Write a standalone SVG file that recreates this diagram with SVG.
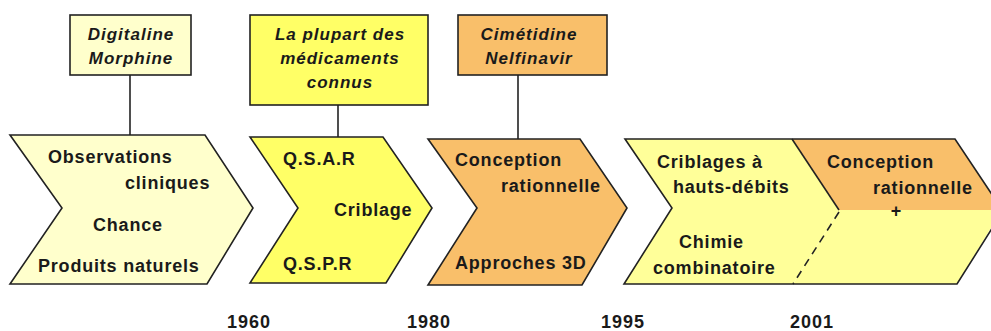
<svg xmlns="http://www.w3.org/2000/svg" width="991" height="331" viewBox="0 0 991 331">
<style>
.shape{stroke:#222;stroke-width:1.6;stroke-linejoin:miter}
.nos{stroke:none}
.t{font-family:"Liberation Sans",Arial,sans-serif;font-weight:bold;font-size:18px;letter-spacing:0.8px;fill:#1a1a1a}
.bi{font-family:"Liberation Sans",Arial,sans-serif;font-weight:bold;font-style:italic;font-size:17px;letter-spacing:1px;fill:#1a1a1a;text-anchor:middle}
.yr{font-family:"Liberation Sans",Arial,sans-serif;font-weight:bold;font-size:18px;letter-spacing:1px;fill:#1a1a1a}
.cream{fill:#FFFFCC}
.yel{fill:#FFFF66}
.ora{fill:#F9BF6A}
.lyel{fill:#FFFF99}
.ln{stroke:#222;stroke-width:1.6;fill:none}
</style>
<rect width="991" height="331" fill="#ffffff"/>
<g id="connectors">
<line class="ln" x1="130" y1="75" x2="130" y2="135"/>
<line class="ln" x1="338" y1="105" x2="338" y2="137"/>
<line class="ln" x1="518" y1="75" x2="518" y2="139"/>
</g>
<g id="box1">
<rect class="shape cream" x="70" y="15" width="121" height="60"/>
<text class="bi" x="131" y="40">Digitaline</text>
<text class="bi" x="131" y="64">Morphine</text>
</g>
<g id="box2">
<rect class="shape yel" x="250" y="15" width="178" height="90"/>
<text class="bi" x="340" y="40">La plupart des</text>
<text class="bi" x="340" y="64">médicaments</text>
<text class="bi" x="340" y="88">connus</text>
</g>
<g id="box3">
<rect class="shape ora" x="458" y="15" width="149" height="60"/>
<text class="bi" x="529" y="40">Cimétidine</text>
<text class="bi" x="529" y="64">Nelfinavir</text>
</g>
<g id="chevron1">
<polygon class="shape cream" points="10,135 205,135 253,208 207,284 10,284 62,208"/>
<text class="t" x="48" y="163">Observations</text>
<text class="t" x="125" y="189">cliniques</text>
<text class="t" x="93" y="231">Chance</text>
<text class="t" x="38" y="272">Produits naturels</text>
</g>
<g id="chevron2">
<polygon class="shape yel" points="250,137 383,137 432,208 386,283 250,283 298,208"/>
<text class="t" x="283" y="165">Q.S.A.R</text>
<text class="t" x="334" y="216">Criblage</text>
<text class="t" x="283" y="270">Q.S.P.R</text>
</g>
<g id="chevron3">
<polygon class="shape ora" points="428,139 580,139 627,208 582,285 428,285 477,208"/>
<text class="t" x="455" y="166">Conception</text>
<text class="t" x="501" y="192">rationnelle</text>
<text class="t" x="455" y="269">Approches 3D</text>
</g>
<g id="chevron4">
<polygon class="nos lyel" points="625,139 792,139 839,210 793,284 624,284 672,208"/>
<text class="t" x="657" y="168">Criblages à</text>
<text class="t" x="673" y="193">hauts-débits</text>
<text class="t" x="679" y="248">Chimie</text>
<text class="t" x="653" y="274">combinatoire</text>
</g>
<g id="chevron5">
<polygon class="nos ora" points="792,139 955,139 1002,210 839,210"/>
<polygon class="nos lyel" points="839,210 1002,210 957,284 793,284"/>
<text class="t" x="827" y="168">Conception</text>
<text class="t" x="873" y="194">rationnelle</text>
<text class="t" x="896" y="217" text-anchor="middle" style="letter-spacing:0">+</text>
</g>
<g id="outline45">
<polygon class="shape" fill="none" points="625,139 955,139 1003,211 957,284 624,284 672,208"/>
<line class="ln" x1="792" y1="139" x2="839" y2="210"/>
<line class="ln" x1="839" y1="212" x2="793" y2="284" stroke-dasharray="8,6"/>
</g>
<g id="years">
<text class="yr" x="227" y="328">1960</text>
<text class="yr" x="407" y="328">1980</text>
<text class="yr" x="601" y="328">1995</text>
<text class="yr" x="790" y="328">2001</text>
</g>
</svg>
